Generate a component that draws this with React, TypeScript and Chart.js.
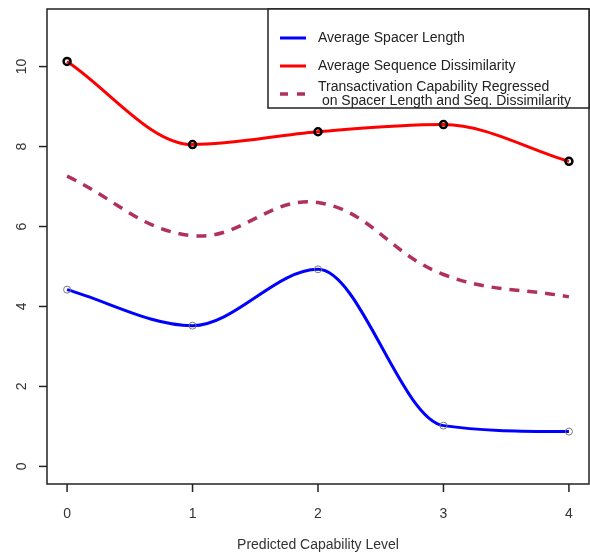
import React, { useEffect, useRef } from "react";
import { Chart, registerables } from "chart.js";

Chart.register(...registerables);

const levels = [0, 1, 2, 3, 4];
const spacerLength = [4.42, 3.52, 4.93, 1.02, 0.87];
const seqDissimilarity = [10.13, 8.05, 8.37, 8.55, 7.63];
const transactivation = [7.26, 5.77, 6.6, 4.8, 4.24];
const xTicks = [0, 1, 2, 3, 4];
const yTicks = [0, 2, 4, 6, 8, 10];
const xTitle = "Predicted Capability Level";
const legendSpacer = "Average Spacer Length";
const legendSeq = "Average Sequence Dissimilarity";
const legendTrans1 = "Transactivation Capability Regressed";
const legendTrans2 = " on Spacer Length and Seq. Dissimilarity";

const FONT = "14px 'Liberation Sans', Arial, sans-serif";

const rStylePlugin = {
  id: "rStyle",
  afterDraw(chart: any) {
    const ctx = chart.ctx as CanvasRenderingContext2D;
    const area = chart.chartArea;
    const xs = chart.scales.x;
    const ys = chart.scales.y;
    ctx.save();
    // box
    ctx.strokeStyle = "#222";
    ctx.lineWidth = 1.5;
    ctx.strokeRect(area.left, area.top, area.right - area.left, area.bottom - area.top);
    // x ticks
    ctx.fillStyle = "#333";
    ctx.font = FONT;
    ctx.textAlign = "center";
    ctx.textBaseline = "middle";
    xTicks.forEach((v) => {
      const px = xs.getPixelForValue(v);
      ctx.beginPath();
      ctx.moveTo(px, area.bottom);
      ctx.lineTo(px, area.bottom + 8);
      ctx.stroke();
      ctx.fillText(String(v), px, 514);
    });
    // y ticks
    yTicks.forEach((v) => {
      const py = ys.getPixelForValue(v);
      ctx.beginPath();
      ctx.moveTo(area.left, py);
      ctx.lineTo(area.left - 8, py);
      ctx.stroke();
      ctx.save();
      ctx.translate(22, py);
      ctx.rotate(-Math.PI / 2);
      ctx.fillText(String(v), 0, 0);
      ctx.restore();
    });
    // axis title
    ctx.fillText(xTitle, (area.left + area.right) / 2, 545);

    // legend
    const lx = 268;
    const ly = area.top;
    ctx.fillStyle = "#fff";
    ctx.fillRect(lx, ly, area.right - lx, 99);
    ctx.strokeStyle = "#222";
    ctx.lineWidth = 1.5;
    ctx.strokeRect(lx, ly, area.right - lx, 99);
    ctx.textAlign = "left";
    ctx.fillStyle = "#222";
    const rows = [
      { y: 38, color: "#0000FF", dash: [] as number[], w: 3 },
      { y: 66, color: "#FF0000", dash: [] as number[], w: 3 },
      { y: 94, color: "#B03060", dash: [8, 9], w: 3.5 },
    ];
    rows.forEach((r) => {
      ctx.beginPath();
      ctx.strokeStyle = r.color;
      ctx.lineWidth = r.w;
      ctx.setLineDash(r.dash);
      ctx.moveTo(280, r.y);
      ctx.lineTo(306, r.y);
      ctx.stroke();
    });
    ctx.setLineDash([]);
    ctx.fillText(legendSpacer, 318, 38);
    ctx.fillText(legendSeq, 318, 66);
    ctx.fillText(legendTrans1, 318, 87);
    ctx.fillText(legendTrans2, 318, 101);
    ctx.restore();
  },
};

export default function App() {
  const ref = useRef<HTMLCanvasElement | null>(null);
  useEffect(() => {
    if (!ref.current) return;
    const chart = new Chart(ref.current, {
      type: "line",
      data: {
        datasets: [
          {
            label: legendSeq,
            data: levels.map((x, i) => ({ x, y: seqDissimilarity[i] })),
            borderColor: "#FF0000",
            borderWidth: 3,
            cubicInterpolationMode: "monotone",
            pointRadius: 3.5,
            pointBorderWidth: 2.5,
            pointBorderColor: "#000",
            pointBackgroundColor: "rgba(0,0,0,0)",
          },
          {
            label: legendSpacer,
            data: levels.map((x, i) => ({ x, y: spacerLength[i] })),
            borderColor: "#0000FF",
            borderWidth: 3,
            cubicInterpolationMode: "monotone",
            pointRadius: 3.5,
            pointBorderWidth: 1,
            pointBorderColor: "#777",
            pointBackgroundColor: "rgba(0,0,0,0)",
          },
          {
            label: legendTrans1,
            data: levels.map((x, i) => ({ x, y: transactivation[i] })),
            borderColor: "#B03060",
            borderWidth: 3.5,
            borderDash: [10, 8],
            tension: 0.4,
            pointRadius: 0,
          },
        ],
      },
      options: {
        responsive: false,
        animation: false,
        layout: { autoPadding: false, padding: { left: 47, top: 9, right: 1, bottom: 68 } },
        plugins: { legend: { display: false }, tooltip: { enabled: false } },
        scales: {
          x: { type: "linear", min: -0.16, max: 4.16, display: false },
          y: { type: "linear", min: -0.44, max: 11.44, display: false },
        },
      },
      plugins: [rStylePlugin],
    });
    return () => chart.destroy();
  }, []);
  return (
    <div style={{ position: "absolute", left: 0, top: 0, width: 590, height: 552, background: "#fff" }}>
      <canvas ref={ref} width={590} height={552} />
    </div>
  );
}
